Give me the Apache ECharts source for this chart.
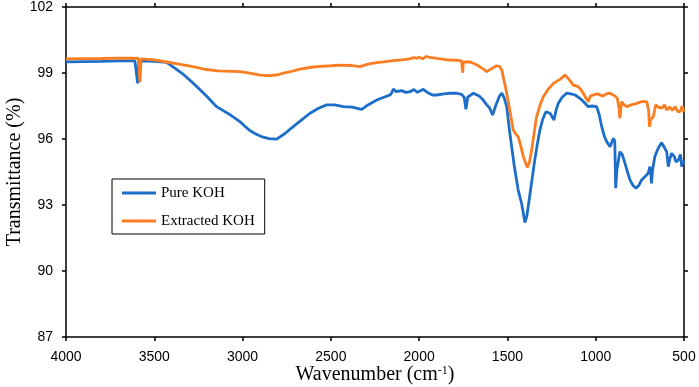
<!DOCTYPE html>
<html>
<head>
<meta charset="utf-8">
<script src="https://cdn.jsdelivr.net/npm/echarts@6/dist/echarts.min.js"></script>
<style>
  html, body { margin: 0; padding: 0; background: #fff; }
  #chart { width: 699px; height: 387px; }
</style>
</head>
<body>
<div id="chart"></div>
<script>
  // wavenumber (cm-1) and transmittance (%)
  const seriesNames = ['Pure KOH', 'Extracted KOH']
  const xTicks = [4000, 3500, 3000, 2500, 2000, 1500, 1000, 500]
  const yTicks = [87, 90, 93, 96, 99, 102]

  const pureWn = [4000, 3900, 3800, 3700, 3610, 3600, 3594, 3588, 3550, 3500, 3430, 3380, 3330, 3281, 3210, 3147, 3080, 3015, 2990, 2958,
    2930, 2901, 2883, 2850, 2807, 2760, 2713, 2660, 2618, 2570, 2524, 2480, 2429, 2380, 2325, 2290, 2240, 2200, 2165, 2155,
    2146, 2130, 2100, 2075, 2052, 2030, 2010, 1990, 1976, 1950, 1925, 1901, 1860, 1825, 1787, 1760, 1745, 1735, 1725, 1693,
    1660, 1640, 1617, 1600, 1584, 1565, 1545, 1532, 1520, 1504, 1490, 1476, 1460, 1439, 1420, 1401, 1390, 1377, 1360, 1345,
    1330, 1316, 1300, 1282, 1259, 1236, 1225, 1212, 1190, 1165, 1140, 1116, 1090, 1070, 1042, 1020, 995, 980, 966, 950,
    938, 919, 900, 892, 887, 880, 863, 850, 834, 820, 806, 790, 772, 755, 740, 720, 703, 693, 688, 684,
    678, 665, 645, 627, 610, 598, 589, 580, 570, 555, 545, 532, 520, 513, 505, 500]
  const pureT = [99.51, 99.52, 99.53, 99.55, 99.55, 99.54, 98.53, 99.52, 99.55, 99.53, 99.48, 99.2, 98.9, 98.55, 98.0, 97.47, 97.15, 96.79, 96.6, 96.38,
    96.25, 96.14, 96.08, 96.02, 95.99, 96.25, 96.56, 96.9, 97.17, 97.4, 97.55, 97.55, 97.47, 97.45, 97.35, 97.55, 97.77, 97.9, 98.0, 98.1,
    98.27, 98.15, 98.2, 98.12, 98.15, 98.25, 98.12, 98.2, 98.26, 98.1, 98.0, 98.0, 98.05, 98.08, 98.08, 98.03, 97.9, 97.35, 97.9, 98.08,
    97.95, 97.8, 97.55, 97.4, 97.09, 97.55, 97.95, 98.08, 97.9, 97.47, 96.5, 95.65, 94.7, 93.68, 93.08, 92.2, 92.5, 93.23, 94.2, 95.05,
    95.8, 96.41, 96.9, 97.24, 97.17, 96.86, 97.3, 97.62, 97.9, 98.08, 98.05, 98.0, 97.85, 97.7, 97.47, 97.5, 97.47, 97.1, 96.56, 96.1,
    95.88, 95.65, 96.03, 95.9, 93.76, 94.6, 95.42, 95.3, 94.89, 94.5, 94.14, 93.9, 93.76, 93.9, 94.14, 94.3, 94.44, 94.74, 94.4, 93.98,
    94.6, 95.2, 95.6, 95.83, 95.6, 95.42, 94.74, 95.1, 95.35, 95.2, 94.95, 95.05, 95.3, 94.74, 95.0, 94.89]

  const extrWn = [4000, 3900, 3800, 3700, 3620, 3590, 3581, 3575, 3500, 3430, 3360, 3281, 3216, 3140, 3015, 2950, 2901, 2845, 2800, 2769,
    2720, 2675, 2620, 2580, 2500, 2448, 2380, 2335, 2290, 2240, 2190, 2146, 2100, 2060, 2030, 2014, 2000, 1980, 1960, 1939,
    1900, 1860, 1825, 1780, 1760, 1755, 1753, 1750, 1712, 1670, 1640, 1617, 1590, 1561, 1545, 1532, 1504, 1480, 1467, 1450,
    1439, 1425, 1410, 1388, 1375, 1363, 1350, 1335, 1315, 1297, 1270, 1240, 1200, 1174, 1150, 1127, 1099, 1085, 1070, 1055,
    1042, 1030, 1014, 990, 960, 940, 919, 890, 878, 868, 863, 856, 853, 840, 825, 800, 768, 740, 711, 700,
    696, 688, 674, 660, 645, 625, 610, 598, 580, 565, 551, 535, 523, 510, 500]
  const extrT = [99.64, 99.65, 99.66, 99.68, 99.67, 99.66, 98.58, 99.64, 99.6, 99.5, 99.4, 99.29, 99.17, 99.1, 99.06, 98.98, 98.9, 98.88, 98.92, 98.99,
    99.08, 99.18, 99.25, 99.29, 99.33, 99.36, 99.34, 99.29, 99.4, 99.47, 99.52, 99.56, 99.6, 99.63, 99.7, 99.67, 99.72, 99.65, 99.75, 99.71,
    99.66, 99.62, 99.59, 99.57, 99.55, 99.5, 99.01, 99.5, 99.51, 99.35, 99.2, 99.06, 99.2, 99.33, 99.3, 99.14, 98.08, 97.0, 96.41, 96.2,
    96.1, 95.7, 95.2, 94.71, 94.95, 95.5, 96.2, 97.01, 97.55, 97.92, 98.25, 98.53, 98.72, 98.91, 98.7, 98.45, 98.38, 98.25, 98.08, 97.85,
    97.7, 97.95, 98.0, 98.05, 97.95, 98.05, 98.08, 97.95, 97.85, 97.4, 96.94, 97.5, 97.7, 97.55, 97.47, 97.55, 97.62, 97.7, 97.7, 97.3,
    96.56, 96.9, 97.01, 97.55, 97.45, 97.4, 97.55, 97.32, 97.45, 97.3, 97.47, 97.25, 97.24, 97.5, 97.24]

  const pureData = pureWn.map((w, i) => [w, pureT[i]])
  const extrData = extrWn.map((w, i) => [w, extrT[i]])

  const frameLine = { show: true, lineStyle: { color: '#000', width: 1.5 } }
  const frameTick = { show: true, inside: false, length: 4, lineStyle: { color: '#000', width: 1.5 } }

  const myChart = echarts.init(document.getElementById('chart'))
  const option = {
    animation: false,
    grid: { left: 66, right: 15, top: 7, bottom: 50, containLabel: false, outerBoundsMode: 'none' },
    legend: {
      data: seriesNames,
      orient: 'vertical',
      left: 112,
      top: 179,
      icon: 'rect',
      itemWidth: 34,
      itemHeight: 3,
      itemGap: 12,
      itemTextGap: 4,
      padding: [6, 10, 5, 10],
      borderColor: '#000',
      borderWidth: 1,
      textStyle: { fontFamily: 'Liberation Serif', fontSize: 15, lineHeight: 16, color: '#000' },
    },
    xAxis: [
      {
        type: 'value',
        min: xTicks[xTicks.length - 1],
        max: xTicks[0],
        interval: 500,
        inverse: true,
        name: 'Wavenumber (cm{sup|-1})',
        nameLocation: 'middle',
        nameGap: 28,
        nameMoveOverlap: false,
        nameTextStyle: {
          fontFamily: 'Liberation Serif',
          fontSize: 20,
          color: '#000',
          rich: { sup: { fontFamily: 'Liberation Serif', fontSize: 12, verticalAlign: 'top', color: '#000' } },
        },
        axisLine: frameLine,
        axisTick: frameTick,
        axisLabel: {
          fontFamily: 'Liberation Sans',
          fontSize: 14,
          color: '#000',
          margin: 13,
          formatter: function (value) {
            return String(value)
          },
        },
        splitLine: { show: false },
      },
      {
        type: 'value',
        position: 'top',
        min: xTicks[xTicks.length - 1],
        max: xTicks[0],
        interval: 500,
        inverse: true,
        axisLine: frameLine,
        axisTick: frameTick,
        axisLabel: { show: false },
        splitLine: { show: false },
      },
    ],
    yAxis: [
      {
        type: 'value',
        min: yTicks[0],
        max: yTicks[yTicks.length - 1],
        interval: 3,
        name: 'Transmittance (%)',
        nameLocation: 'middle',
        nameGap: 41,
        nameMoveOverlap: false,
        nameTextStyle: { fontFamily: 'Liberation Serif', fontSize: 20, color: '#000' },
        axisLine: frameLine,
        axisTick: frameTick,
        axisLabel: { fontFamily: 'Liberation Sans', fontSize: 14, color: '#000', margin: 13 },
        splitLine: { show: false },
      },
      {
        type: 'value',
        position: 'right',
        min: yTicks[0],
        max: yTicks[yTicks.length - 1],
        interval: 3,
        axisLine: frameLine,
        axisTick: frameTick,
        axisLabel: { show: false },
        splitLine: { show: false },
      },
    ],
    series: [
      {
        name: seriesNames[0],
        type: 'line',
        showSymbol: false,
        color: '#1c6ec9',
        lineStyle: { width: 2.8, color: '#1c6ec9' },
        data: pureData,
      },
      {
        name: seriesNames[1],
        type: 'line',
        showSymbol: false,
        color: '#fb7d22',
        lineStyle: { width: 2.8, color: '#fb7d22' },
        data: extrData,
      },
    ],
  }
  myChart.setOption(option)
</script>
</body>
</html>
